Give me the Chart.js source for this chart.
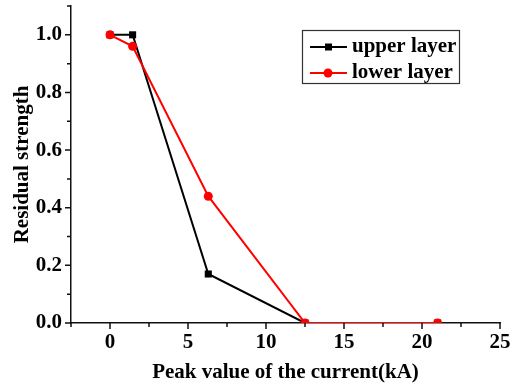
<!DOCTYPE html>
<html><head><meta charset="utf-8">
<script src="https://cdn.jsdelivr.net/npm/chart.js@4/dist/chart.umd.min.js"></script>
<style>html,body{margin:0;padding:0;background:#fff}#wrap{width:515px;height:385px}</style>
</head><body><div id="wrap"><canvas id="c" width="515" height="385"></canvas></div>
<script>
const xValues = [0, 1.45, 6.3, 12.5, 21];
const upperLayer = [1.0, 1.0, 0.17, 0.0, 0.0];
const lowerLayer = [1.0, 0.96, 0.44, 0.0, 0.0];
const xTicks = [0, 5, 10, 15, 20, 25];
const yTicks = [0, 0.2, 0.4, 0.6, 0.8, 1.0];
const seriesNames = ['upper layer', 'lower layer'];

const FONT = {family: "'Liberation Serif','Times New Roman',serif", weight: 'bold', size: 21};

const tickPlugin = {
  id: 'ticks',
  afterDraw(chart) {
    const ctx = chart.ctx, a = chart.chartArea;
    const xs = chart.scales.x, ys = chart.scales.y;
    ctx.save();
    ctx.strokeStyle = '#111'; ctx.lineWidth = 1.5;
    ctx.beginPath();
    for (let v = xs.min; v <= xs.max + 1e-9; v += 2.5) {
      const p = xs.getPixelForValue(v);
      const major = Math.abs(v / 5 - Math.round(v / 5)) < 1e-6;
      ctx.moveTo(p, a.bottom); ctx.lineTo(p, a.bottom + (major ? 6 : 4));
    }
    for (let v = ys.min; v <= ys.max + 1e-9; v += 0.1) {
      const p = ys.getPixelForValue(v);
      const major = Math.abs(v / 0.2 - Math.round(v / 0.2)) < 1e-6;
      ctx.moveTo(a.left, p); ctx.lineTo(a.left - (major ? 6 : 4), p);
    }
    ctx.stroke();
    // legend
    const bx = 302, by = 30, bw = 157, bh = 53;
    ctx.fillStyle = '#fff'; ctx.fillRect(bx, by, bw, bh);
    ctx.lineWidth = 1.2; ctx.strokeStyle = '#333';
    ctx.strokeRect(bx + 0.5, by + 0.5, bw, bh);
    const ds = chart.data.datasets;
    const order = [1, 0];
    order.forEach((di, i) => {
      const d = ds[di];
      const yy = by + 17 + i * 26;
      ctx.strokeStyle = d.borderColor; ctx.lineWidth = 2;
      ctx.beginPath(); ctx.moveTo(310, yy); ctx.lineTo(347, yy); ctx.stroke();
      ctx.fillStyle = d.backgroundColor;
      if (d.pointStyle === 'rect') { ctx.fillRect(325, yy - 3.5, 7, 7); }
      else { ctx.beginPath(); ctx.arc(328, yy, 4.5, 0, Math.PI * 2); ctx.fill(); }
      ctx.fillStyle = '#000';
      ctx.font = "bold 21px 'Liberation Serif', serif";
      ctx.textBaseline = 'middle';
      ctx.fillText(d.label, 352, yy);
    });
    ctx.restore();
  }
};

new Chart(document.getElementById('c'), {
  type: 'line',
  data: {
    datasets: [
      {label: seriesNames[1], data: xValues.map((x, i) => ({x, y: lowerLayer[i]})),
       borderColor: '#ff0000', backgroundColor: '#ff0000', borderWidth: 2,
       pointStyle: 'circle', pointRadius: 4.5, pointBorderWidth: 0, clip: 0},
      {label: seriesNames[0], data: xValues.map((x, i) => ({x, y: upperLayer[i]})),
       borderColor: '#000', backgroundColor: '#000', borderWidth: 2,
       pointStyle: 'rect', pointRadius: 5, pointBorderWidth: 0, clip: 0}
    ]
  },
  options: {
    responsive: false, animation: false,
    layout: {padding: {top: 6, right: 15, left: 0, bottom: 0}},
    plugins: {legend: {display: false}, tooltip: {enabled: false}},
    scales: {
      x: {
        type: 'linear', min: -2.5, max: 25,
        afterBuildTicks: s => { s.ticks = xTicks.map(v => ({value: v})); },
        afterFit: s => { s.height = 62; s.paddingLeft = 0; s.paddingRight = 0; },
        grid: {display: false, drawTicks: false},
        border: {display: true, color: '#111', width: 1.5},
        ticks: {color: '#000', font: FONT, padding: 7, maxRotation: 0, callback: v => String(v)},
        title: {display: true, text: 'Peak value of the current(kA)', color: '#000', font: FONT, padding: {top: 4, bottom: 0}}
      },
      y: {
        type: 'linear', min: 0, max: 1.1,
        afterBuildTicks: s => { s.ticks = yTicks.map(v => ({value: v})); },
        afterFit: s => { s.width = 71; s.paddingTop = 0; s.paddingBottom = 0; },
        grid: {display: false, drawTicks: false},
        border: {display: true, color: '#111', width: 1.5},
        ticks: {color: '#000', font: FONT, padding: 9, callback: v => Number(v).toFixed(1)},
        title: {display: true, text: 'Residual strength', color: '#000', font: FONT, padding: {top: 10, bottom: 0}}
      }
    }
  },
  plugins: [tickPlugin]
});
</script></body></html>
